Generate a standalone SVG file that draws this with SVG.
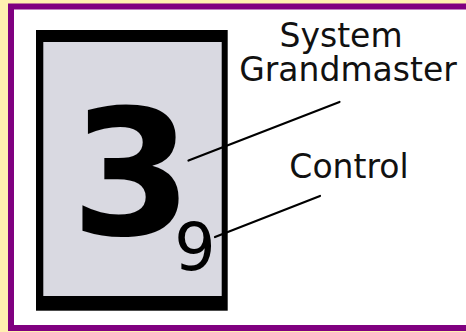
<svg xmlns="http://www.w3.org/2000/svg" width="466" height="332" viewBox="0 0 466 332">
  <style>
    .lbl { font-family: "DejaVu Sans", Verdana, sans-serif; font-size: 33px; fill: #111; text-anchor: middle; }
    .conn { stroke: #000; stroke-width: 2.2; fill: none; stroke-linecap: round; }
  </style>
  <rect x="0" y="0" width="466" height="332" fill="#FFF0B0"/>
  <rect x="11" y="6.5" width="470" height="321.5" fill="#FFFFFF" stroke="#800080" stroke-width="6"/>
  <g id="display">
    <rect x="36" y="30" width="191.7" height="280.7" fill="#000"/>
    <rect x="43.3" y="42" width="178.4" height="254" fill="#D9D9E1"/>
    <text x="131.7" y="235" style="font-family: 'DejaVu Sans', Verdana, sans-serif; font-weight: bold; font-size: 175px; text-anchor: middle; fill: #000;">3</text>
    <text x="195" y="270" style="font-family: 'DejaVu Sans', Verdana, sans-serif; font-size: 65px; text-anchor: middle; fill: #000;">9</text>
  </g>
  <g id="label-grandmaster">
    <text class="lbl" x="341" y="46.5">System</text>
    <text class="lbl" x="348" y="80.5">Grandmaster</text>
  </g>
  <g id="label-control">
    <text class="lbl" x="349" y="178.3">Control</text>
  </g>
  <g id="connectors">
    <line class="conn" x1="188.5" y1="160.5" x2="339.5" y2="102"/>
    <line class="conn" x1="215" y1="237" x2="320" y2="196"/>
  </g>
</svg>
